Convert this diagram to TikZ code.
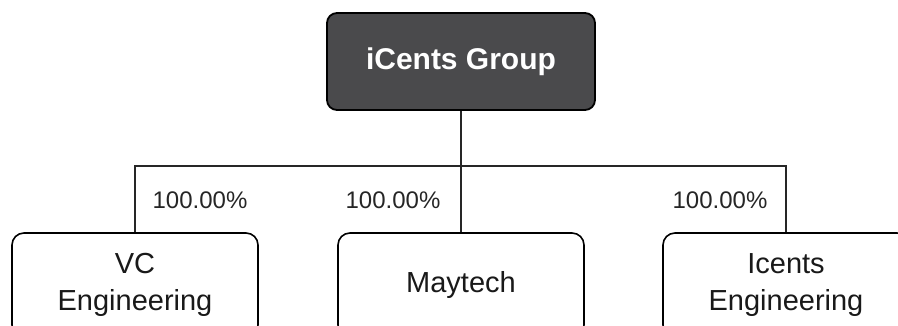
\documentclass[tikz,border=0pt]{standalone}
\usepackage{fontspec}
\setmainfont{Liberation Sans}
\definecolor{topgray}{HTML}{4A4A4C}
\begin{document}
\begin{tikzpicture}[x=1pt,y=-1pt,
        company/.style={draw,line width=1.6pt,rounded corners=12pt,
            minimum width=246pt,minimum height=104pt,align=center,
            font=\fontsize{29}{37}\selectfont,text=black!90},
        share/.style={font=\fontsize{24}{28}\selectfont,text=black!85},
        link/.style={line width=1.8pt,black!85}]
        \useasboundingbox (0,0) rectangle (898,325);
        \clip (0,0) rectangle (898,325);
        %% Boxes
        \node[draw,line width=1.8pt,fill=topgray,rounded corners=10pt,
            minimum width=268pt,minimum height=97pt,text=white,
            font=\bfseries\fontsize{30}{36}\selectfont] (group) at (461,61.5) {iCents Group};
        \node[company] (vc) at (135,285) {VC\\Engineering};
        \node[company] (maytech) at (461,285) {Maytech};
        \node[company] (icents) at (786,285) {Icents\\Engineering};
        %% Lines
        \coordinate (bar) at (461,166);
        \draw[link] (group.south) -- (maytech.north);
        \draw[link] (vc.north) -- (vc.north |- bar)
            -- (icents.north |- bar) -- (icents.north);
        %% Shares
        \node[share] (p1) at (200,200) {100.00\%};
        \node[share] (p2) at (393,200) {100.00\%};
        \node[share] (p3) at (720,200) {100.00\%};
    \end{tikzpicture}
\end{document}
